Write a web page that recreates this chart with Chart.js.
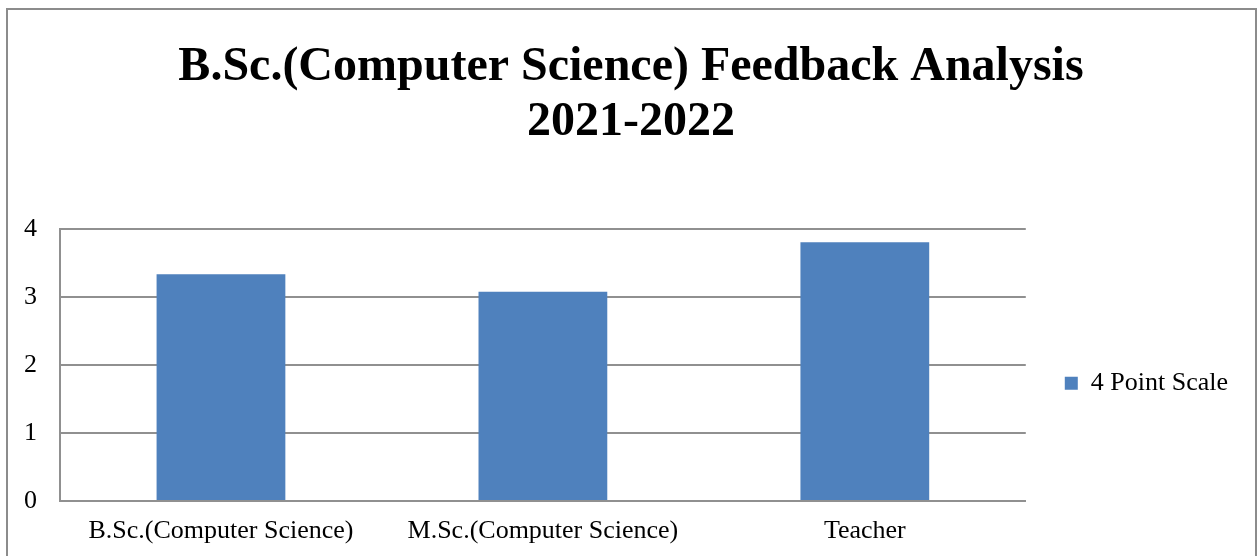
<!DOCTYPE html>
<html>
<head>
<meta charset="utf-8">
<script src="https://cdn.jsdelivr.net/npm/chart.js@4.4.1/dist/chart.umd.min.js"></script>
<style>
  body { margin: 0; background: #fff; }
  #cadre { position: absolute; left: 0; top: 0; width: 1260px; height: 556px; }
  #bordure { position: absolute; left: 6px; top: 8px; width: 1247px; height: 600px; border: 2px solid #8c8c8c; pointer-events: none; }
</style>
</head>
<body>
<div id="cadre">
  <canvas id="graphique" width="1260" height="556"></canvas>
  <div id="bordure"></div>
</div>
<script>
// Les données du graphique
const categories = ["B.Sc.(Computer Science)", "M.Sc.(Computer Science)", "Teacher"]
const valeurs = [3.34, 3.08, 3.81]
const nomSerie = "4 Point Scale"
const titre = ["B.Sc.(Computer Science) Feedback Analysis", "2021-2022"]
const graduationsY = [0, 1, 2, 3, 4]

const police = "'Liberation Serif', 'Times New Roman', serif"

const data = {
    labels: categories,
    datasets: [{
        label: nomSerie,
        data: valeurs,
        backgroundColor: "#4F81BD",
        barPercentage: 0.4,
        categoryPercentage: 1
    }]
}

const config = {
    type: "bar",
    data: data,
    options: {
        responsive: false,
        animation: false,
        layout: { padding: { left: 24, right: 22, top: 0, bottom: 0 } },
        plugins: {
            title: {
                display: true,
                text: titre,
                color: "#000",
                font: { family: police, size: 48, weight: "bold", lineHeight: 1.15 },
                padding: { top: 40, bottom: 79 }
            },
            legend: {
                position: "right",
                fullSize: false,
                //titre vide qui sert juste à descendre la légende au niveau du graphique
                title: { display: true, text: " ", font: { size: 10, lineHeight: 1 }, padding: { top: 13, bottom: 13 } },
                labels: {
                    color: "#000",
                    font: { family: police, size: 26 },
                    boxWidth: 13,
                    boxHeight: 13,
                    padding: 39
                }
            },
            tooltip: { enabled: false }
        },
        scales: {
            x: {
                grid: { display: false, drawTicks: false },
                border: { display: true, color: "#909090", width: 2 },
                ticks: { color: "#000", font: { family: police, size: 26 }, padding: 15, maxRotation: 0 },
                afterFit: (scale) => { scale.height = 55 }
            },
            y: {
                min: 0,
                max: 4,
                afterBuildTicks: (scale) => { scale.ticks = graduationsY.map(v => ({ value: v })) },
                grid: { color: "#909090", lineWidth: 2, drawTicks: false },
                border: { display: true, color: "#909090", width: 2 },
                ticks: { color: "#000", font: { family: police, size: 26 }, padding: 23 },
                afterFit: (scale) => { scale.width = 36 }
            }
        }
    }
}

// Rendu du graphique dans le canvas
const graphique = new Chart(document.querySelector("#graphique"), config)
</script>
</body>
</html>
